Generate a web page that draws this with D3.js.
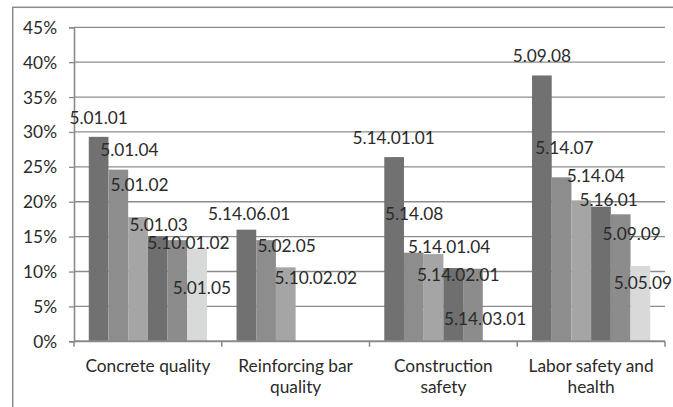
<!DOCTYPE html>
<html>
<head>
<meta charset="utf-8">
<script src="https://cdn.jsdelivr.net/npm/d3@7"></script>
<style>
  html, body { margin: 0; padding: 0; background: #fff; }
  svg { display: block; }
  text { font-family: Lato, "Open Sans", sans-serif; fill: #2a2a2a; }
</style>
</head>
<body>
<svg id="chart" width="673" height="407"></svg>
<script>
// ---- data ----
const categories = ["Concrete quality", "Reinforcing bar quality", "Construction safety", "Labor safety and health"];
const yTicks = [0, 5, 10, 15, 20, 25, 30, 35, 40, 45];

const concreteCodes  = ["5.01.01", "5.01.04", "5.01.02", "5.01.03", "5.10.01.02", "5.01.05"];
const concreteValues = [29.3, 24.6, 17.8, 15.0, 14.5, 13.3];

const rebarCodes  = ["5.14.06.01", "5.02.05", "5.10.02.02"];
const rebarValues = [16.0, 14.5, 10.6];

const safetyCodes  = ["5.14.01.01", "5.14.08", "5.14.01.04", "5.14.02.01", "5.14.03.01"];
const safetyValues = [26.4, 12.7, 12.5, 10.5, 10.4];

const laborCodes  = ["5.09.08", "5.14.07", "5.14.04", "5.16.01", "5.09.09", "5.05.09"];
const laborValues = [38.1, 23.5, 20.2, 19.3, 18.2, 10.8];

const groupCodes  = [concreteCodes, rebarCodes, safetyCodes, laborCodes];
const groupValues = [concreteValues, rebarValues, safetyValues, laborValues];

// ---- styling / layout (not data) ----
const seriesColors = ["#717171", "#8d8d8d", "#a5a5a5", "#6f6f6f", "#8c8c8c", "#d8d9d9"];
// label nudges relative to bar centre / bar top [dx, dy]
const labelNudges = [
  [[0, -12.7], [11, -13.3], [1.5, -25.6], [1, -5.3], [11, 9.3], [4.7, 45.5]],
  [[2.8, -10], [20.5, 11.7], [30, 16.7]],
  [[-0.5, -12.7], [0.3, -32.7], [15.6, -1], [5, 13.4], [12.2, 56]],
  [[0, -13.6], [2.8, -23], [14.5, -18.3], [7.6, -1], [11, 25.7], [2.5, 22.6]]
];

const FS = 17.3;
const svg = d3.select("#chart");
const plot = { left: 74, right: 665, top: 27.3, bottom: 341.3 };

// outer chart border (partly cropped in reference)
svg.append("rect")
  .attr("x", 12.7).attr("y", 7.3).attr("width", 700).attr("height", 450)
  .attr("fill", "none").attr("stroke", "#8c8c8c").attr("stroke-width", 1.5);

const y = d3.scaleLinear().domain([0, 45]).range([plot.bottom, plot.top]);
const x0 = d3.scaleBand().domain(categories).range([plot.left, plot.right]).paddingInner(0).paddingOuter(0);
const x1 = d3.scaleBand().domain(d3.range(6)).range([0, x0.bandwidth()]).paddingInner(0).paddingOuter(0.75);

// gridlines
svg.append("g").selectAll("line").data(yTicks.filter(t => t > 0)).join("line")
  .attr("x1", plot.left).attr("x2", plot.right)
  .attr("y1", d => y(d)).attr("y2", d => y(d))
  .attr("stroke", "#8c8c8c").attr("stroke-width", 1.3);

// y axis
const yAxis = svg.append("g").attr("transform", `translate(${plot.left},0)`)
  .call(d3.axisLeft(y).tickValues(yTicks).tickSize(5).tickPadding(12).tickFormat(d => d + "%"));
yAxis.select(".domain").attr("stroke", "#8a8a8a").attr("stroke-width", 1.6);
yAxis.selectAll(".tick line").attr("stroke", "#8a8a8a").attr("stroke-width", 1.3);
yAxis.selectAll(".tick text").attr("font-size", FS).attr("font-family", "Lato, sans-serif")
  .attr("fill", "#2a2a2a").attr("dy", null).attr("y", 6);

// bars
const groups = svg.append("g").selectAll("g").data(categories).join("g")
  .attr("transform", d => `translate(${x0(d)},0)`);

groups.each(function (cat, gi) {
  const g = d3.select(this);
  const vals = groupValues[gi];
  g.selectAll("rect").data(vals).join("rect")
    .attr("x", (d, i) => x1(i))
    .attr("width", x1.bandwidth())
    .attr("y", d => y(d))
    .attr("height", d => y(0) - y(d))
    .attr("fill", (d, i) => seriesColors[i]);
});

// x axis
const xAxisG = svg.append("g");
xAxisG.append("line").attr("x1", plot.left).attr("x2", plot.right)
  .attr("y1", y(0)).attr("y2", y(0)).attr("stroke", "#8a8a8a").attr("stroke-width", 2);
const boundaries = categories.map(c => x0(c)).concat([x0.range()[1]]);
xAxisG.selectAll("line.tk").data(boundaries).join("line").attr("class", "tk")
  .attr("x1", d => d).attr("x2", d => d)
  .attr("y1", y(0)).attr("y2", y(0) + 5.5)
  .attr("stroke", "#8a8a8a").attr("stroke-width", 1.5);

// category labels with wrapping
const measurer = svg.append("text").attr("font-size", FS).attr("visibility", "hidden");
function textWidth(s) { measurer.text(s); return measurer.node().getComputedTextLength(); }
function wrap(s, maxW) {
  const words = s.split(" "); const lines = []; let cur = "";
  words.forEach(w => {
    const t = cur ? cur + " " + w : w;
    if (textWidth(t) > maxW && cur) { lines.push(cur); cur = w; } else cur = t;
  });
  if (cur) lines.push(cur);
  return lines;
}
categories.forEach(c => {
  const lines = wrap(c, x0.bandwidth() * 0.92);
  const t = svg.append("text").attr("text-anchor", "middle").attr("font-size", FS)
    .attr("x", x0(c) + x0.bandwidth() / 2).attr("y", y(0) + 30.5);
  lines.forEach((ln, i) => t.append("tspan").attr("x", x0(c) + x0.bandwidth() / 2)
    .attr("dy", i === 0 ? 0 : 21).text(ln));
});
measurer.remove();

// data labels (series codes)
groups.each(function (cat, gi) {
  const g = d3.select(this);
  const vals = groupValues[gi];
  const codes = groupCodes[gi];
  g.selectAll("text.lbl").data(vals).join("text").attr("class", "lbl")
    .attr("text-anchor", "middle").attr("font-size", FS)
    .attr("x", (d, i) => x1(i) + x1.bandwidth() / 2 + labelNudges[gi][i][0])
    .attr("y", (d, i) => y(d) + labelNudges[gi][i][1])
    .text((d, i) => codes[i]);
});
</script>
</body>
</html>
